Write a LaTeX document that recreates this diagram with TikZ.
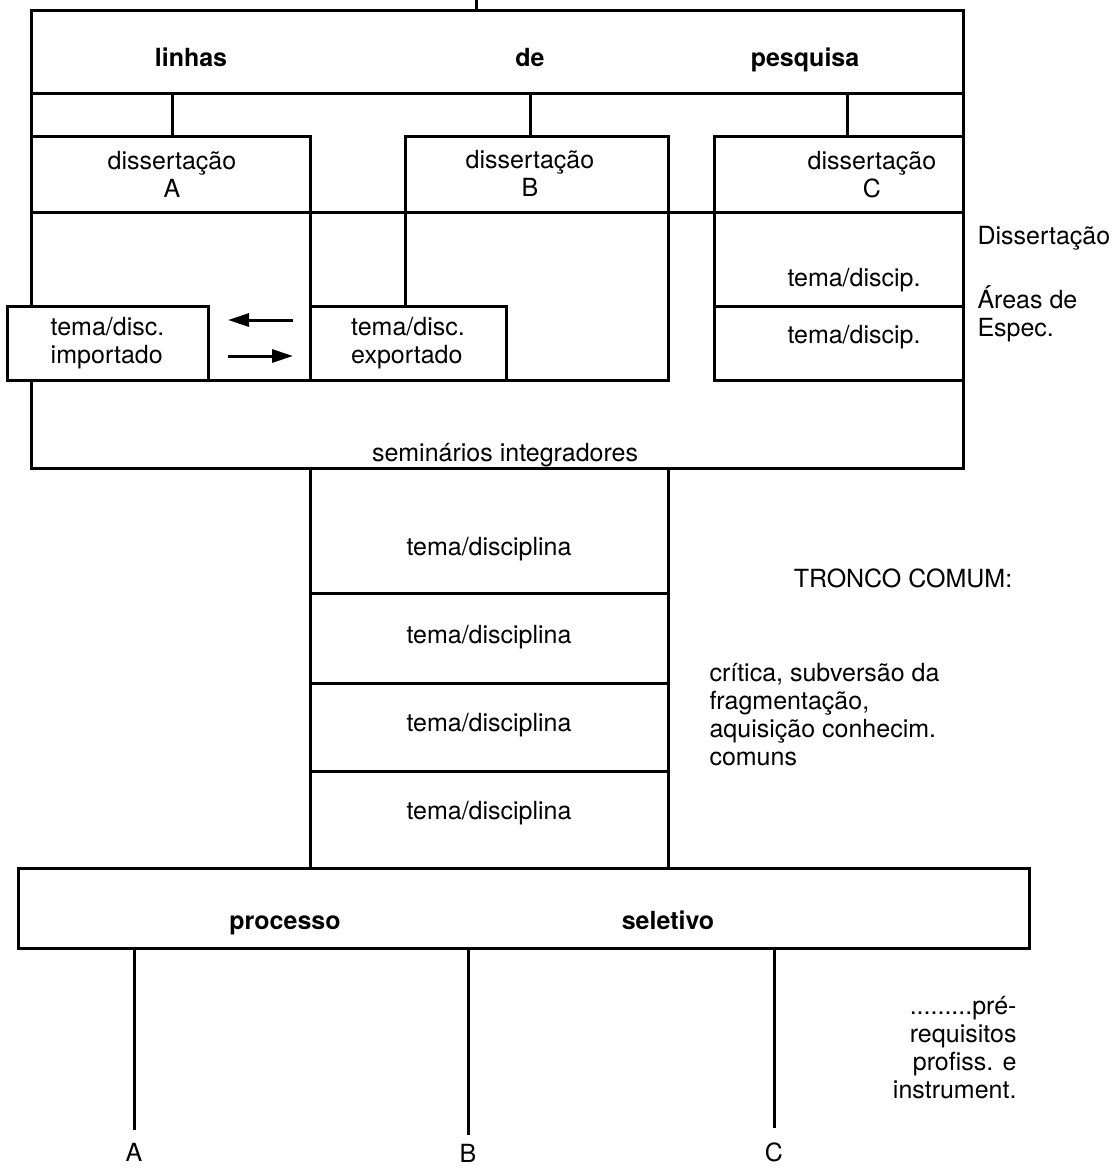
\documentclass[tikz,border=0pt]{standalone}
\usepackage{fontspec}
\setmainfont{TeX Gyre Heros}
\usepackage{tikz}
\usetikzlibrary{arrows.meta,positioning}
\newcommand{\linew}{1.5pt}
\newcommand{\txtsize}{\fontsize{12.5}{14}\selectfont}

\begin{document}
\begin{tikzpicture}[x=0.5pt,y=-0.5pt,line width=\linew]
  \tikzset{Frame/.style={draw, inner sep=0pt, outer sep=0pt},
    Label/.style={font=\txtsize, inner sep=0pt, align=center},
    Bold/.style={Label, font=\txtsize\bfseries, anchor=base},
    Topic/.style={Frame, Label, fill=white, align=left},
    Arrow/.style={-{Triangle[length=10.5pt,width=6.5pt]}}}
  \useasboundingbox (0,0) rectangle (1115,1168);
  % linhas de pesquisa
  \node[Frame, minimum width=466pt, minimum height=229pt] (outer) at (497,239) {};
  \node[Frame, minimum width=466pt, minimum height=41.5pt] (hdr) at (497,51.5) {};
  \node[Bold] (linhas) at (191,66) {linhas};
  \node[Bold] (de) at (530,66) {de};
  \node[Bold] (pesquisa) at (805,66) {pesquisa};
  \coordinate (in) at (476,0);
  \draw (in) -- (in |- hdr.north);
  % dissertacoes
  \node[Frame, minimum width=139.5pt, minimum height=38pt] (dissA) at (170.5,174) {};
  \node[Frame, minimum width=131.5pt, minimum height=38pt] (dissB) at (536.5,174) {};
  \node[Frame, minimum width=124.5pt, minimum height=38pt] (dissC) at (838.5,174) {};
  \node[Label] (dissAtxt) at (172,174) {dissertação\\A};
  \node[Label] (dissBtxt) at (530,173) {dissertação\\B};
  \node[Label] (dissCtxt) at (872,175) {dissertação\\C};
  \foreach \n/\x in {A/172,B/530,C/847}{
    \coordinate (k\n) at (\x,120);
    \draw (k\n |- hdr.south) -- (k\n |- diss\n.north);
  }
  % temas importado / exportado
  \node[Topic, minimum width=100.5pt, minimum height=37pt] (imp) at (107.5,343) {tema/disc.\\importado};
  \node[Topic, minimum width=98pt, minimum height=37pt] (exp) at (408,343) {tema/disc.\\exportado};
  \draw[Arrow, shorten <=8.5pt, shorten >=10pt] ([yshift=11.5pt]exp.west) -- ([yshift=11.5pt]imp.east);
  \draw[Arrow, shorten <=10pt, shorten >=8.5pt] ([yshift=-6.5pt]imp.east) -- ([yshift=-6.5pt]exp.west);
  \draw (dissA.south west) -- (dissC.south east);
  \draw (dissA.south east) -- (dissA.south east |- exp.north);
  \draw (imp.south east) -- (exp.south west);
  \draw (dissB.south west) -- (dissB.south west |- exp.north);
  \draw (dissB.south east) -- (dissB.south east |- exp.south) -- (exp.south east);
  \draw (dissC.south west) -- (dissC.south west |- exp.south) -- (dissC.south east |- exp.south);
  \draw (dissC.south west |- exp.north) -- (dissC.south east |- exp.north);
  \node[Label] (temaC1) at (854,280) {tema/discip.};
  \node[Label] (temaC2) at (854,337) {tema/discip.};
  \node[Label, anchor=west] (dissert) at (976,238) {Dissertação};
  \node[Label, anchor=west, align=left] (areas) at (976,314) {Áreas de\\Espec.};
  \node[Label] (sem) at (505,455) {seminários integradores};
  % tronco comum
  \node[Frame, minimum width=505.5pt, minimum height=40pt] (sel) at (523.5,908) {};
  \draw (exp.west |- outer.south) -- (exp.west |- sel.north);
  \draw (dissB.east |- outer.south) -- (dissB.east |- sel.north);
  \foreach \y in {593,683,771} \draw (310,\y) -- (668,\y);
  \foreach \y [count=\i] in {549,637,725,813} \node[Label] (tema\i) at (489,\y) {tema/disciplina};
  \node[Label] (tronco) at (903,578) {TRONCO COMUM:};
  \node[Label, anchor=north west, align=left] (critica) at (708,662) {crítica, subversão da\\fragmentação,\\aquisição conhecim.\\comuns};
  % processo seletivo
  \node[Bold] (processo) at (285,929) {processo};
  \node[Bold] (seletivo) at (668,929) {seletivo};
  \foreach \n/\x/\y/\g in {A/134/1130/6pt,B/468/1135/4pt,C/774/1128/6.5pt}{
    \coordinate (end\n) at (\x,\y);
    \draw (end\n |- sel.south) -- (end\n);
    \node[Label, below=\g of end\n] (lbl\n) {\n};
  }
  \node[Label, anchor=east, align=right] (prereq) at (1018,1048) {.........pré-\\requisitos\hspace*{4.5pt}\\profiss. e\\instrument.};
\end{tikzpicture}
\end{document}
